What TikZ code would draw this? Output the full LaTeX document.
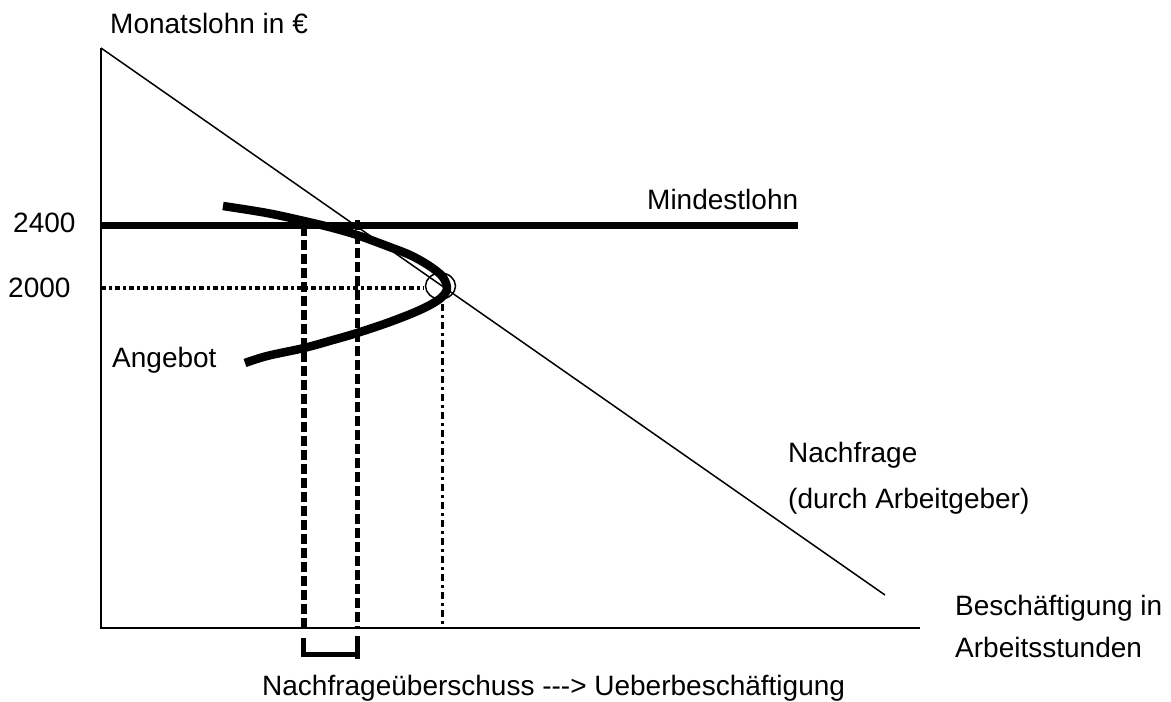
\documentclass[tikz,border=0pt]{standalone}
\usepackage{fontspec}
\setmainfont{Liberation Sans}
\begin{document}
\begin{tikzpicture}[x=1pt,y=-1pt,
    lbl/.style={anchor=base west,inner sep=0pt,font=\fontsize{28}{34}\selectfont},
    axisline/.style={line width=2pt},
    demandline/.style={line width=1.5pt},
    minwage/.style={line width=7pt},
    gapline/.style={line width=5.5pt,dash pattern=on 10pt off 4pt},
    eqline/.style={line width=4.5pt,dash pattern=on 5pt off 3pt on 3pt off 3pt},
    eqvert/.style={line width=3pt,dash pattern=on 7pt off 4pt on 3pt off 4pt},
    supply/.style={line width=8.5pt,line join=round}]
  \useasboundingbox (0,0) rectangle (1171,702);

  % axes
  \coordinate (origin) at (101,628);
  \coordinate (ytop) at (101,48);
  \coordinate (xend) at (920,628);
  \draw[axisline] (ytop) -- (origin) -- (xend);

  % demand curve
  \coordinate (dend) at (885,595);
  \draw[demandline] (ytop) -- (dend);

  % minimum wage
  \coordinate (mw0) at (101,225.5);
  \coordinate (mw1) at (798,225.5);
  \draw[minwage] (mw0) -- (mw1);

  % equilibrium marker and guide lines
  \coordinate (eq) at (440.5,286);
  \draw[line width=1.5pt] (eq) ellipse [x radius=15, y radius=13];
  \coordinate (eqy) at (101,288);
  \coordinate (eqyend) at (424,288);
  \draw[eqline] (eqy) -- (eqyend);
  \coordinate (eqx) at (442.5,304);
  \coordinate (eqxend) at (442.5,628);
  \draw[eqvert] (eqx) -- (eqxend);

  % excess demand at the minimum wage
  \coordinate (ga0) at (304,226);
  \coordinate (ga1) at (304,628);
  \coordinate (gb0) at (357.5,220);
  \coordinate (gb1) at (357.5,628);
  \draw[gapline] (ga0) -- (ga1);
  \draw[gapline,line width=5pt] (gb0) -- (gb1);

  % bracket below the axis
  \coordinate (br0) at (303.5,638);
  \coordinate (br1) at (303.5,654.5);
  \coordinate (br2) at (357.5,654.5);
  \coordinate (br3) at (357.5,636);
  \draw[line width=5pt] (br0) -- (br1) -- (br2) -- (br3);
  \coordinate (br4) at (357.5,659);
  \draw[line width=5pt] (br2) -- (br4);

  % supply curve (backward bending)
  \draw[supply] plot[smooth,tension=0.55] coordinates {
    (223,206) (267,213) (304,221) (333,228) (357,235) (387,246)
    (410,255) (428,265) (442,276) (447,288) (442,297) (430,305)
    (413,313) (387,323) (357,333) (333,340) (304,348) (267,356) (245,363)};

  % labels
  \node[lbl] (ylab) at (110,33) {Monatslohn in €};
  \node[lbl] (v2400) at (13,232) {2400};
  \node[lbl] (v2000) at (8,297) {2000};
  \node[lbl] (mwlab) at (647,209) {Mindestlohn};
  \node[lbl] (slab) at (112,367) {Angebot};
  \node[lbl] (dlab1) at (788,462) {Nachfrage};
  \node[lbl] (dlab2) at (788,508) {(durch Arbeitgeber)};
  \node[lbl] (xlab1) at (955,615) {Beschäftigung in};
  \node[lbl] (xlab2) at (955,657) {Arbeitsstunden};
  \node[lbl] (gaplab) at (262,695) {Nachfrageüberschuss -{}-{}-> Ueberbeschäftigung};
\end{tikzpicture}
\end{document}
